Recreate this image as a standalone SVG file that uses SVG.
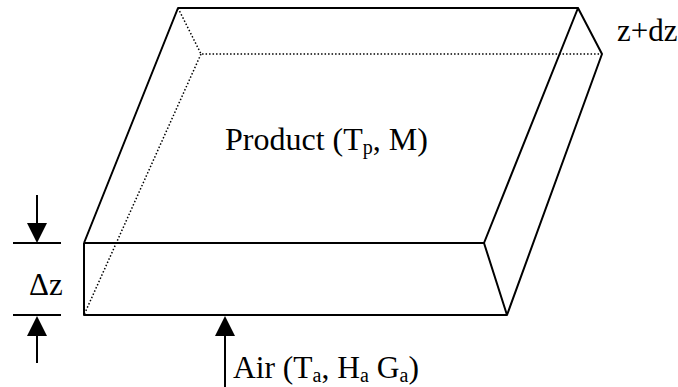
<svg xmlns="http://www.w3.org/2000/svg" width="678" height="387" viewBox="0 0 678 387">
<style>
.s{fill:none;stroke:#000;stroke-width:2;stroke-linejoin:round}
.d{fill:none;stroke:#000;stroke-width:1.5;stroke-dasharray:1.5 2}
.h{fill:#000}
text{font-family:"Liberation Serif","Times New Roman",serif;font-size:31px;fill:#000}
.b{font-size:20px}
</style>
<rect width="678" height="387" fill="#fff"/>
<g id="connectors">
<path class="d" d="M178 8L201 54L602 54M201 54L84 315"/>
<path class="s" d="M84 243L178 8H578L484 243H84V315H507L484 243M507 315L602 54L578 8"/>
<path class="s" d="M13 243H61M13 315H61M37 195V225M37 333V363M225 333V387"/>
<path class="h" d="M27 223H47L37 243ZM27 336H47L37 316ZM215 336H235L225 316Z"/>
</g>
<g id="product"><text x="225" y="150" style="font-size:32px">Product (T<tspan class="b" dy="4">p</tspan><tspan dy="-4">, M)</tspan></text></g>
<g id="air"><text x="233" y="378" style="font-size:31.5px">Air (T<tspan class="b" dy="4">a</tspan><tspan dy="-4">, H</tspan><tspan class="b" dy="4">a</tspan><tspan dy="-4"> G</tspan><tspan class="b" dy="4">a</tspan><tspan dy="-4">)</tspan></text></g>
<g id="dz"><text x="29" y="295">Δz</text></g>
<g id="zdz"><text x="617" y="41">z+dz</text></g>
</svg>
